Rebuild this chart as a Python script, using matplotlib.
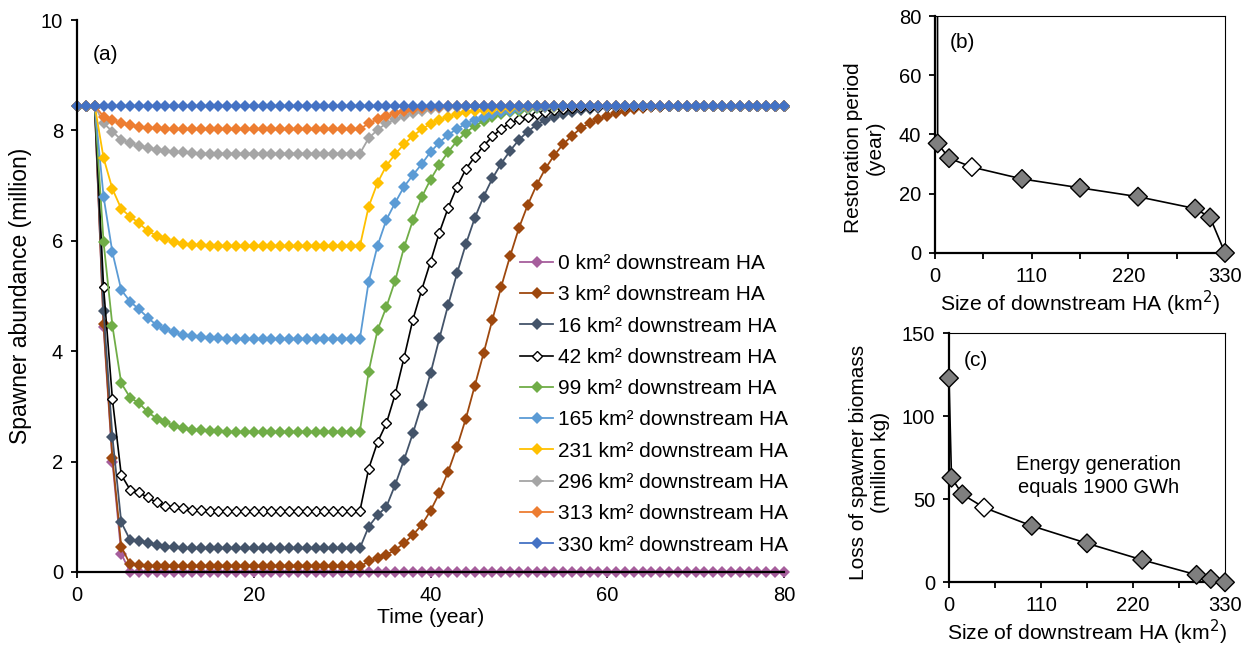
#importing the libraries used for the figure
import numpy as np
import matplotlib
matplotlib.use('Agg')
import matplotlib.pyplot as plt
from matplotlib.ticker import MultipleLocator

plt.rcParams['font.family'] = ['Liberation Sans', 'DejaVu Sans']
plt.rcParams['font.size'] = 14.5

#time axis of panel (a), one point per year
years = list(range(81))

#spawner abundance (million) for each size of downstream HA
ha_0 = [8.45, 8.45, 8.45, 4.43, 2.00, 0.33, 0.00, 0.00, 0.00, 0.00,
        0.00, 0.00, 0.00, 0.00, 0.00, 0.00, 0.00, 0.00, 0.00, 0.00,
        0.00, 0.00, 0.00, 0.00, 0.00, 0.00, 0.00, 0.00, 0.00, 0.00,
        0.00, 0.00, 0.00, 0.00, 0.00, 0.00, 0.00, 0.00, 0.00, 0.00,
        0.00, 0.00, 0.00, 0.00, 0.00, 0.00, 0.00, 0.00, 0.00, 0.00,
        0.00, 0.00, 0.00, 0.00, 0.00, 0.00, 0.00, 0.00, 0.00, 0.00,
        0.00, 0.00, 0.00, 0.00, 0.00, 0.00, 0.00, 0.00, 0.00, 0.00,
        0.00, 0.00, 0.00, 0.00, 0.00, 0.00, 0.00, 0.00, 0.00, 0.00,
        0.00]
ha_3 = [8.45, 8.45, 8.45, 4.49, 2.07, 0.46, 0.14, 0.12, 0.11, 0.10,
        0.10, 0.10, 0.10, 0.10, 0.10, 0.10, 0.10, 0.10, 0.10, 0.10,
        0.10, 0.10, 0.10, 0.10, 0.10, 0.10, 0.10, 0.10, 0.10, 0.10,
        0.10, 0.10, 0.10, 0.19, 0.25, 0.31, 0.40, 0.52, 0.67, 0.85,
        1.11, 1.43, 1.82, 2.27, 2.78, 3.37, 3.96, 4.57, 5.17, 5.72,
        6.23, 6.65, 7.01, 7.31, 7.55, 7.75, 7.90, 8.04, 8.13, 8.20,
        8.26, 8.31, 8.35, 8.38, 8.40, 8.42, 8.43, 8.44, 8.45, 8.45,
        8.45, 8.45, 8.45, 8.45, 8.45, 8.45, 8.45, 8.45, 8.45, 8.45,
        8.45]
ha_16 = [8.45, 8.45, 8.45, 4.72, 2.45, 0.90, 0.58, 0.57, 0.52, 0.48,
         0.46, 0.45, 0.44, 0.43, 0.43, 0.43, 0.43, 0.43, 0.43, 0.43,
         0.43, 0.43, 0.43, 0.43, 0.43, 0.43, 0.43, 0.43, 0.43, 0.43,
         0.43, 0.43, 0.43, 0.82, 1.03, 1.18, 1.58, 2.03, 2.51, 3.03,
         3.60, 4.23, 4.84, 5.41, 5.94, 6.41, 6.80, 7.13, 7.40, 7.63,
         7.83, 7.98, 8.10, 8.19, 8.25, 8.30, 8.34, 8.37, 8.39, 8.41,
         8.42, 8.43, 8.44, 8.45, 8.45, 8.45, 8.45, 8.45, 8.45, 8.45,
         8.45, 8.45, 8.45, 8.45, 8.45, 8.45, 8.45, 8.45, 8.45, 8.45,
         8.45]
ha_42 = [8.45, 8.45, 8.45, 5.16, 3.13, 1.76, 1.49, 1.44, 1.35, 1.26,
         1.20, 1.17, 1.15, 1.13, 1.12, 1.11, 1.10, 1.10, 1.10, 1.10,
         1.10, 1.10, 1.10, 1.10, 1.10, 1.10, 1.10, 1.10, 1.10, 1.10,
         1.10, 1.10, 1.10, 1.87, 2.35, 2.69, 3.22, 3.88, 4.57, 5.11,
         5.62, 6.15, 6.60, 6.98, 7.30, 7.52, 7.72, 7.89, 8.03, 8.13,
         8.20, 8.25, 8.30, 8.34, 8.37, 8.39, 8.41, 8.42, 8.43, 8.44,
         8.45, 8.45, 8.45, 8.45, 8.45, 8.45, 8.45, 8.45, 8.45, 8.45,
         8.45, 8.45, 8.45, 8.45, 8.45, 8.45, 8.45, 8.45, 8.45, 8.45,
         8.45]
ha_99 = [8.45, 8.45, 8.45, 5.97, 4.46, 3.42, 3.16, 3.06, 2.90, 2.78,
         2.71, 2.65, 2.60, 2.58, 2.57, 2.56, 2.55, 2.54, 2.54, 2.54,
         2.54, 2.54, 2.54, 2.54, 2.54, 2.54, 2.54, 2.54, 2.54, 2.54,
         2.54, 2.54, 2.54, 3.63, 4.38, 4.80, 5.28, 5.88, 6.37, 6.79,
         7.11, 7.38, 7.61, 7.81, 7.96, 8.08, 8.17, 8.24, 8.29, 8.33,
         8.36, 8.38, 8.40, 8.42, 8.43, 8.44, 8.45, 8.45, 8.45, 8.45,
         8.45, 8.45, 8.45, 8.45, 8.45, 8.45, 8.45, 8.45, 8.45, 8.45,
         8.45, 8.45, 8.45, 8.45, 8.45, 8.45, 8.45, 8.45, 8.45, 8.45,
         8.45]
ha_165 = [8.45, 8.45, 8.45, 6.80, 5.79, 5.11, 4.90, 4.76, 4.61, 4.47,
          4.40, 4.34, 4.29, 4.27, 4.25, 4.24, 4.23, 4.22, 4.22, 4.22,
          4.22, 4.22, 4.22, 4.22, 4.22, 4.22, 4.22, 4.22, 4.22, 4.22,
          4.22, 4.22, 4.22, 5.26, 5.91, 6.38, 6.69, 6.98, 7.19, 7.39,
          7.61, 7.78, 7.92, 8.03, 8.12, 8.19, 8.25, 8.30, 8.33, 8.36,
          8.38, 8.40, 8.42, 8.43, 8.44, 8.45, 8.45, 8.45, 8.45, 8.45,
          8.45, 8.45, 8.45, 8.45, 8.45, 8.45, 8.45, 8.45, 8.45, 8.45,
          8.45, 8.45, 8.45, 8.45, 8.45, 8.45, 8.45, 8.45, 8.45, 8.45,
          8.45]
ha_231 = [8.45, 8.45, 8.45, 7.50, 6.94, 6.58, 6.44, 6.32, 6.18, 6.09,
          6.03, 5.98, 5.95, 5.93, 5.92, 5.91, 5.90, 5.90, 5.90, 5.90,
          5.90, 5.90, 5.90, 5.90, 5.90, 5.90, 5.90, 5.90, 5.90, 5.90,
          5.90, 5.90, 5.90, 6.62, 7.05, 7.36, 7.57, 7.75, 7.90, 8.02,
          8.12, 8.19, 8.25, 8.30, 8.33, 8.35, 8.37, 8.39, 8.40, 8.41,
          8.42, 8.43, 8.44, 8.45, 8.45, 8.45, 8.45, 8.45, 8.45, 8.45,
          8.45, 8.45, 8.45, 8.45, 8.45, 8.45, 8.45, 8.45, 8.45, 8.45,
          8.45, 8.45, 8.45, 8.45, 8.45, 8.45, 8.45, 8.45, 8.45, 8.45,
          8.45]
ha_296 = [8.45, 8.45, 8.45, 8.13, 7.98, 7.83, 7.77, 7.72, 7.68, 7.65,
          7.63, 7.61, 7.60, 7.59, 7.58, 7.58, 7.58, 7.58, 7.58, 7.58,
          7.58, 7.58, 7.58, 7.58, 7.58, 7.58, 7.58, 7.58, 7.58, 7.58,
          7.58, 7.58, 7.58, 7.86, 8.01, 8.13, 8.20, 8.26, 8.31, 8.35,
          8.38, 8.40, 8.42, 8.43, 8.44, 8.45, 8.45, 8.45, 8.45, 8.45,
          8.45, 8.45, 8.45, 8.45, 8.45, 8.45, 8.45, 8.45, 8.45, 8.45,
          8.45, 8.45, 8.45, 8.45, 8.45, 8.45, 8.45, 8.45, 8.45, 8.45,
          8.45, 8.45, 8.45, 8.45, 8.45, 8.45, 8.45, 8.45, 8.45, 8.45,
          8.45]
ha_313 = [8.45, 8.45, 8.45, 8.25, 8.18, 8.13, 8.10, 8.07, 8.05, 8.04,
          8.03, 8.02, 8.02, 8.02, 8.02, 8.02, 8.02, 8.02, 8.02, 8.02,
          8.02, 8.02, 8.02, 8.02, 8.02, 8.02, 8.02, 8.02, 8.02, 8.02,
          8.02, 8.02, 8.02, 8.13, 8.20, 8.26, 8.31, 8.35, 8.38, 8.40,
          8.42, 8.43, 8.44, 8.45, 8.45, 8.45, 8.45, 8.45, 8.45, 8.45,
          8.45, 8.45, 8.45, 8.45, 8.45, 8.45, 8.45, 8.45, 8.45, 8.45,
          8.45, 8.45, 8.45, 8.45, 8.45, 8.45, 8.45, 8.45, 8.45, 8.45,
          8.45, 8.45, 8.45, 8.45, 8.45, 8.45, 8.45, 8.45, 8.45, 8.45,
          8.45]
ha_330 = [8.45, 8.45, 8.45, 8.45, 8.45, 8.45, 8.45, 8.45, 8.45, 8.45,
          8.45, 8.45, 8.45, 8.45, 8.45, 8.45, 8.45, 8.45, 8.45, 8.45,
          8.45, 8.45, 8.45, 8.45, 8.45, 8.45, 8.45, 8.45, 8.45, 8.45,
          8.45, 8.45, 8.45, 8.45, 8.45, 8.45, 8.45, 8.45, 8.45, 8.45,
          8.45, 8.45, 8.45, 8.45, 8.45, 8.45, 8.45, 8.45, 8.45, 8.45,
          8.45, 8.45, 8.45, 8.45, 8.45, 8.45, 8.45, 8.45, 8.45, 8.45,
          8.45, 8.45, 8.45, 8.45, 8.45, 8.45, 8.45, 8.45, 8.45, 8.45,
          8.45, 8.45, 8.45, 8.45, 8.45, 8.45, 8.45, 8.45, 8.45, 8.45,
          8.45]

series_a = [ha_0, ha_3, ha_16, ha_42, ha_99, ha_165, ha_231, ha_296, ha_313, ha_330]
labels_a = ['0 km² downstream HA', '3 km² downstream HA', '16 km² downstream HA',
            '42 km² downstream HA', '99 km² downstream HA', '165 km² downstream HA',
            '231 km² downstream HA', '296 km² downstream HA', '313 km² downstream HA',
            '330 km² downstream HA']
colors_a = ['#A65E9C', '#9E480E', '#44546A', '#000000', '#70AD47', '#5B9BD5',
            '#FFC000', '#A5A5A5', '#ED7D31', '#4472C4']

#panels (b) and (c): size of downstream HA (km2)
ha_size = [0, 3, 16, 42, 99, 165, 231, 296, 313, 330]
#restoration period (year); 0 km2 never restores, so it runs off the top
restoration = [1000, 37, 32, 29, 25, 22, 19, 15, 12, 0]
#loss of spawner biomass (million kg)
biomass_loss = [123, 63, 53, 45, 34, 23.5, 13.5, 4.5, 2, 0]
#the 42 km2 case is drawn with an open marker
open_index = 3

fig = plt.figure(figsize=(12.49, 6.46), dpi=100)
ax_a = fig.add_axes([0.0617, 0.1146, 0.566, 0.8544])
ax_b = fig.add_axes([0.7486, 0.6084, 0.2322, 0.3668])
ax_c = fig.add_axes([0.7598, 0.0986, 0.2210, 0.3854])

#panel (a)
for values, label, color in zip(series_a, labels_a, colors_a):
    if color == '#000000':
        ax_a.plot(years, values, color=color, linewidth=1.2, marker='D', markersize=5.5,
                  markerfacecolor='white', markeredgecolor='black', markeredgewidth=1.0,
                  label=label, clip_on=False)
    else:
        ax_a.plot(years, values, color=color, linewidth=1.3, marker='D', markersize=6.5,
                  markeredgewidth=0, label=label, clip_on=False)

ax_a.set_xlim(0, 80)
ax_a.set_ylim(0, 10)
ax_a.xaxis.set_major_locator(MultipleLocator(20))
ax_a.yaxis.set_major_locator(MultipleLocator(2))
ax_a.spines['top'].set_visible(False)
ax_a.spines['right'].set_visible(False)
ax_a.spines['left'].set_linewidth(1.6)
ax_a.spines['bottom'].set_linewidth(1.6)
ax_a.tick_params(direction='out', length=4, width=1.3, pad=6)
ax_a.set_xlabel('Time (year)', fontsize=15.2, labelpad=2)
ax_a.set_ylabel('Spawner abundance (million)', fontsize=16.5)
ax_a.yaxis.set_label_coords(-0.0636, 0.5)
ax_a.text(0.022, 0.955, '(a)', transform=ax_a.transAxes, va='top', ha='left', fontsize=15)
ax_a.legend(loc='upper left', bbox_to_anchor=(520 / 1249, 1 - 254 / 646),
            bbox_transform=fig.transFigure, frameon=False, borderpad=0,
            borderaxespad=0, handlelength=1.6, handletextpad=0.2,
            labelspacing=0.59, numpoints=1, fontsize=15)


#styling shared by the two small panels
def small_panel(ax, x, y, ymax, ystep):
    ax.plot(x, y, color='black', linewidth=1.2, zorder=2)
    fills = ['#7F7F7F'] * len(x)
    fills[open_index] = 'white'
    ax.scatter(x, y, marker='D', s=90, c=fills, edgecolors='black',
               linewidths=1.0, zorder=3, clip_on=False)
    ax.set_xlim(0, 330)
    ax.set_ylim(0, ymax)
    ax.xaxis.set_major_locator(MultipleLocator(110))
    ax.xaxis.set_minor_locator(MultipleLocator(55))
    ax.yaxis.set_major_locator(MultipleLocator(ystep))
    for side in ['left', 'bottom']:
        ax.spines[side].set_linewidth(1.6)
    for side in ['top', 'right']:
        ax.spines[side].set_linewidth(0.8)
    ax.tick_params(which='both', direction='out', length=4, width=1.3, pad=6)
    ax.set_xlabel('Size of downstream HA (km$^2$)', fontsize=15.2, labelpad=2)


small_panel(ax_b, ha_size, restoration, 80, 20)
ax_b.set_ylabel('Restoration period\n(year)', fontsize=15)
ax_b.yaxis.set_label_coords(-0.172, 0.445)
ax_b.text(0.05, 0.93, '(b)', transform=ax_b.transAxes, va='top', ha='left', fontsize=15)

small_panel(ax_c, ha_size, biomass_loss, 150, 50)
ax_c.set_ylabel('Loss of spawner biomass\n(million kg)', fontsize=15)
ax_c.yaxis.set_label_coords(-0.214, 0.48)
ax_c.text(0.055, 0.93, '(c)', transform=ax_c.transAxes, va='top', ha='left', fontsize=15)
ax_c.text(0.543, 0.427, 'Energy generation\nequals 1900 GWh', transform=ax_c.transAxes,
          ha='center', va='center', multialignment='center', linespacing=1.25)

fig.savefig('out.png', dpi=100)
